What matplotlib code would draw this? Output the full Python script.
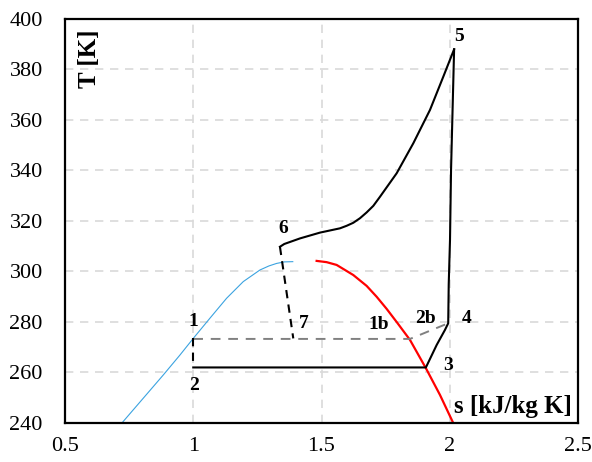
import matplotlib
matplotlib.use("Agg")
import matplotlib.pyplot as plt

plt.rcParams['font.family'] = ['Liberation Serif', 'DejaVu Serif']

# Saturated liquid line (blue)
liq_s = [0.721, 0.805, 0.883, 0.948, 1.000, 1.065, 1.130, 1.195, 1.260, 1.295, 1.325, 1.355, 1.388]
liq_T = [239.9, 249.8, 259.0, 266.9, 273.5, 281.5, 289.4, 296.0, 300.6, 302.2, 303.2, 303.8, 303.9]

# Saturated vapour line (red)
vap_s = [1.481, 1.520, 1.559, 1.624, 1.676, 1.715, 1.754, 1.796, 1.845, 1.907, 1.962, 2.014]
vap_T = [304.2, 303.7, 302.6, 298.6, 294.3, 290.0, 285.2, 279.6, 272.9, 261.7, 251.1, 239.9]

# Cycle (solid black): 2 -> 3 -> 4 -> 5
cyc_s = [1.000, 1.907, 1.949, 1.981, 1.994, 1.996, 2.001, 2.005, 2.010, 2.017]
cyc_T = [262.0, 262.0, 270.9, 276.8, 279.5, 295.0, 312.5, 340.0, 360.0, 388.0]
# Heat rejection 5 -> 6
hot_s = [2.017, 1.975, 1.923, 1.858, 1.793, 1.728, 1.702, 1.676, 1.650, 1.624, 1.598,
         1.572, 1.494, 1.416, 1.355, 1.338]
hot_T = [388.0, 377.2, 364.0, 350.8, 338.9, 329.6, 326.0, 323.4, 321.1, 319.3, 318.1,
         317.1, 315.4, 313.1, 310.9, 309.8]

# Expansion 6 -> 7 and 1 -> 2 (dashed black)
exp67_s = [1.338, 1.390]
exp67_T = [309.8, 273.5]
exp12_s = [1.000, 1.000]
exp12_T = [273.5, 262.0]

# Gray dashed 1 -> 1b/2b -> 4
gray_s = [1.000, 1.845, 1.994]
gray_T = [273.3, 273.3, 279.5]

pt_labels = ['1', '2', '3', '4', '5', '6', '7', '1b', '2b']
pt_s = [1.000, 1.004, 1.992, 2.066, 2.037, 1.349, 1.432, 1.722, 1.906]
pt_T = [280.1, 255.0, 262.6, 281.5, 393.0, 317.1, 279.5, 279.2, 281.5]

xticks = [0.5, 1, 1.5, 2, 2.5]
xticklabels = ['0.5', '1', '1.5', '2', '2.5']
yticks = [240, 260, 280, 300, 320, 340, 360, 380, 400]

fig = plt.figure(figsize=(5.92, 4.62), dpi=100)
ax = fig.add_axes([65/592, 1 - 423/462, (578-65)/592, (423-19)/462])

ax.set_xlim(0.5, 2.5)
ax.set_ylim(240, 400)
ax.set_xticks(xticks)
ax.set_xticklabels(xticklabels)
ax.set_yticks(yticks)
ax.grid(True, color='#d9d9d9', linestyle=(0, (5, 4)), linewidth=1.2)
ax.set_axisbelow(True)
ax.tick_params(length=0, labelsize=16)
ax.tick_params(axis='x', pad=10)
ax.tick_params(axis='y', pad=16)
for sp in ax.spines.values():
    sp.set_linewidth(1.6)

ax.plot(liq_s, liq_T, color='#3ba3e0', linewidth=0.8)
ax.plot(vap_s, vap_T, color='red', linewidth=1.6)
ax.plot(gray_s, gray_T, color='#808080', linewidth=1.4, linestyle=(0, (5, 4)))
ax.plot(cyc_s, cyc_T, color='black', linewidth=1.5)
ax.plot(hot_s, hot_T, color='black', linewidth=1.5)
ax.plot(exp67_s, exp67_T, color='black', linewidth=1.5, linestyle=(0, (4, 3)))
ax.plot(exp12_s, exp12_T, color='black', linewidth=1.5, linestyle=(0, (4, 3)))

for lab, s, T in zip(pt_labels, pt_s, pt_T):
    ax.text(s, T, lab, fontsize=14, fontweight='bold', ha='center', va='center')

ax.text(0.597, 384.2, 'T [K]', fontsize=18, fontweight='bold', rotation=90,
        ha='center', va='center')
ax.text(2.247, 246.5, 's [kJ/kg K]', fontsize=18, fontweight='bold',
        ha='center', va='center')

fig.savefig('out.png', dpi=100)
